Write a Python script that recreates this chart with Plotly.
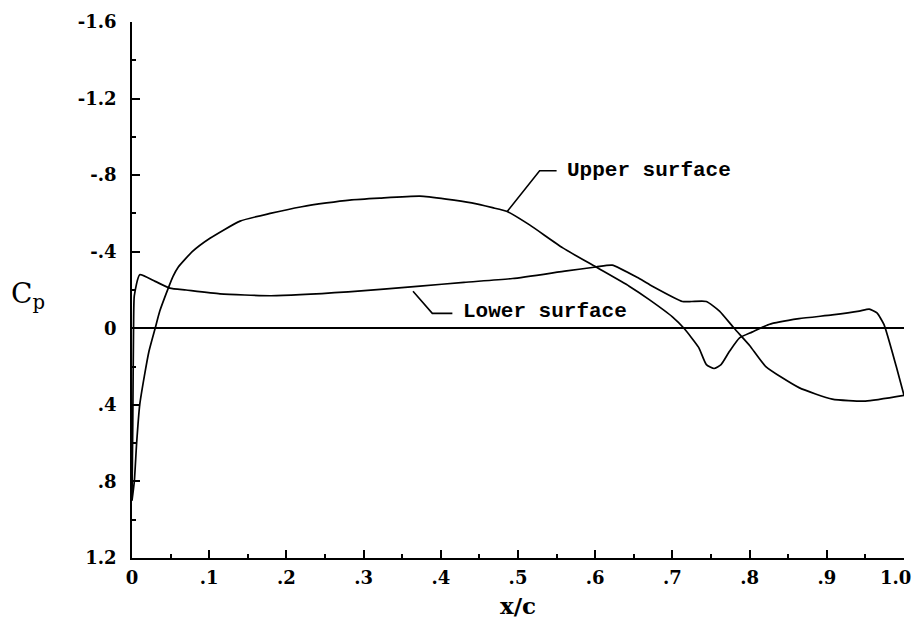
import plotly.graph_objects as go

# ---- data (x/c, Cp) ----
upper_x = [0.000, 0.003, 0.006, 0.010, 0.016, 0.022, 0.030, 0.036, 0.047, 0.053, 0.060,
           0.078, 0.101, 0.140, 0.179, 0.220, 0.252, 0.282, 0.321, 0.373, 0.407, 0.440,
           0.467, 0.486, 0.515, 0.558, 0.601, 0.644, 0.670, 0.700, 0.715, 0.734, 0.744,
           0.754, 0.763, 0.774, 0.787, 0.803, 0.825, 0.864, 0.907, 0.942, 0.955, 0.965,
           0.974, 0.990, 1.000]
upper_cp = [0.90, 0.80, 0.60, 0.40, 0.25, 0.12, 0.00, -0.09, -0.21, -0.27, -0.32,
            -0.40, -0.47, -0.56, -0.60, -0.635, -0.655, -0.67, -0.68, -0.69, -0.675, -0.655,
            -0.63, -0.61, -0.54, -0.42, -0.32, -0.22, -0.15, -0.06, 0.00, 0.10, 0.19,
            0.21, 0.19, 0.12, 0.05, 0.02, -0.02, -0.05, -0.07, -0.09, -0.10, -0.08,
            -0.02, 0.20, 0.35]

lower_x = [0.000, 0.001, 0.002, 0.003, 0.010, 0.030, 0.049, 0.070, 0.114, 0.180, 0.280,
           0.373, 0.430, 0.493, 0.563, 0.601, 0.622, 0.657, 0.674, 0.713, 0.725, 0.744,
           0.761, 0.780, 0.800, 0.821, 0.864, 0.907, 0.950, 1.000]
lower_cp = [0.90, 0.50, 0.00, -0.17, -0.28, -0.245, -0.21, -0.20, -0.18, -0.17, -0.19,
            -0.22, -0.24, -0.26, -0.30, -0.32, -0.33, -0.26, -0.22, -0.14, -0.14, -0.14,
            -0.09, 0.00, 0.09, 0.20, 0.31, 0.37, 0.38, 0.35]

# label leaders
upper_leader_x = [0.486, 0.528, 0.550]
upper_leader_cp = [-0.61, -0.823, -0.823]
lower_leader_x = [0.364, 0.389, 0.415]
lower_leader_cp = [-0.193, -0.078, -0.078]

x_tickvals = [0, 0.1, 0.2, 0.3, 0.4, 0.5, 0.6, 0.7, 0.8, 0.9, 1.0]
x_ticktext = ["0", ".1", ".2", ".3", ".4", ".5", ".6", ".7", ".8", ".9", ""]
x_last_label = "1.0"
y_tickvals = [-1.6, -1.2, -0.8, -0.4, 0, 0.4, 0.8, 1.2]
y_ticktext = ["-1.6", "-1.2", "-.8", "-.4", "0", ".4", ".8", "1.2"]

LINE = dict(color="black", width=1.7, shape="spline", smoothing=0.5)

fig = go.Figure()
fig.add_trace(go.Scatter(x=upper_x, y=upper_cp, mode="lines", line=LINE, hoverinfo="skip"))
fig.add_trace(go.Scatter(x=lower_x, y=lower_cp, mode="lines", line=LINE, hoverinfo="skip"))
fig.add_trace(go.Scatter(x=upper_leader_x, y=upper_leader_cp, mode="lines",
                         line=dict(color="black", width=1.6), hoverinfo="skip"))
fig.add_trace(go.Scatter(x=lower_leader_x, y=lower_leader_cp, mode="lines",
                         line=dict(color="black", width=1.6), hoverinfo="skip"))

mono = dict(family="Liberation Mono", size=21, color="black", weight="bold")
fig.add_annotation(x=upper_leader_x[-1] + 0.011, y=upper_leader_cp[-1], text="Upper surface",
                   showarrow=False, xanchor="left", yanchor="middle", font=mono)
fig.add_annotation(x=lower_leader_x[-1] + 0.011, y=lower_leader_cp[-1] - 0.01, text="Lower surface",
                   showarrow=False, xanchor="left", yanchor="middle", font=mono)

serif_b = dict(family="DejaVu Serif", size=18, color="black", weight="bold")
fig.add_annotation(xref="paper", yref="paper", x=1.0115, y=-0.0355, text=x_last_label,
                   showarrow=False, xanchor="right", yanchor="middle", font=serif_b)
fig.add_annotation(xref="paper", yref="y", x=-0.135, y=-0.17, text="C<sub>p</sub>",
                   showarrow=False, xanchor="center", yanchor="middle",
                   font=dict(family="DejaVu Serif", size=28, color="black"))
fig.add_annotation(xref="paper", yref="paper", x=0.5, y=-0.088, text="x/c",
                   showarrow=False, xanchor="center", yanchor="middle",
                   font=dict(family="DejaVu Serif", size=23, color="black", weight="bold"))

fig.update_xaxes(range=[0, 1.0], tickmode="array", tickvals=x_tickvals, ticktext=x_ticktext,
                 ticks="inside", ticklen=8, tickwidth=1.5, tickcolor="black",
                 minor=dict(tickmode="linear", tick0=0, dtick=0.05, ticks="inside",
                            ticklen=4, tickwidth=1.5, tickcolor="black", showgrid=False),
                 showline=True, linecolor="black", linewidth=1.8, showgrid=False,
                 zeroline=False, tickfont=serif_b, ticklabelstandoff=2,
                 ticklabeloverflow="allow", automargin=False)
fig.update_yaxes(range=[1.2, -1.6], tickmode="array", tickvals=y_tickvals, ticktext=y_ticktext,
                 ticks="inside", ticklen=8, tickwidth=1.5, tickcolor="black",
                 minor=dict(tickmode="linear", tick0=0, dtick=0.2, ticks="inside",
                            ticklen=4, tickwidth=1.5, tickcolor="black", showgrid=False),
                 showline=True, linecolor="black", linewidth=1.8, showgrid=False,
                 zeroline=True, zerolinecolor="black", zerolinewidth=1.6,
                 tickfont=serif_b, ticklabelstandoff=10, ticklabeloverflow="allow",
                 automargin=False)

fig.update_layout(width=915, height=631, margin=dict(l=132, r=11, t=22, b=73),
                  paper_bgcolor="white", plot_bgcolor="white", showlegend=False)

fig.write_html("out.html")
